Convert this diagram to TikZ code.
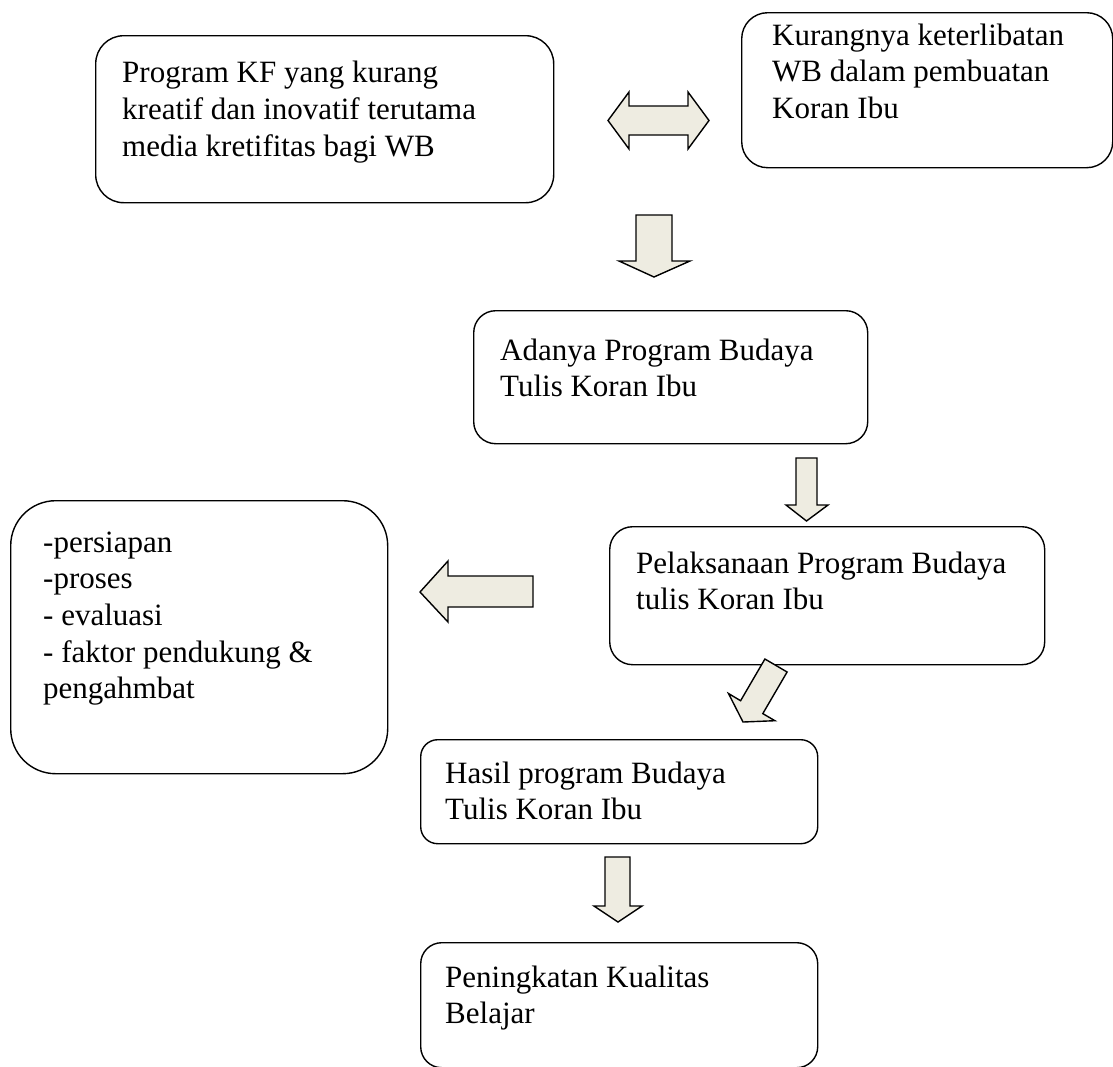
\documentclass[tikz,border=0pt]{standalone}
\usepackage{fontspec}
\setmainfont{Liberation Serif}
\definecolor{arrowfill}{HTML}{EEECE1}
\begin{document}
\begin{tikzpicture}[x=1pt,y=-1pt,
  box/.style={draw, line width=1.4pt, rounded corners=#1, inner sep=0pt, anchor=north west},
  txt/.style={anchor=base west, inner sep=0pt, font=\fontsize{31}{36.7}\selectfont},
  blockarrow/.style={draw, fill=arrowfill, line width=1.4pt, line join=miter}]
\useasboundingbox (0,0) rectangle (1113,1066);
\clip (0,0) rectangle (1113,1066);
% boxes
\node[box=28pt, minimum width=458pt, minimum height=167pt] (b1) at (95,35) {};
\node[box=26pt, minimum width=371pt, minimum height=155pt] (b2) at (741,12) {};
\node[box=22pt, minimum width=394pt, minimum height=133pt] (b3) at (473,310) {};
\node[box=45pt, minimum width=377pt, minimum height=273pt] (b4) at (10,500) {};
\node[box=23pt, minimum width=435pt, minimum height=138pt] (b5) at (609,526) {};
\node[box=17pt, minimum width=397pt, minimum height=104pt] (b6) at (420,739) {};
\node[box=21pt, minimum width=397pt, minimum height=125pt] (b7) at (420,942) {};
% texts
\node[txt] (t1) at ([shift={(27,47.7)}]b1.north west) {\begin{tabular}[t]{@{}l@{}}Program KF yang kurang\\kreatif dan inovatif terutama\\media kretifitas bagi WB\end{tabular}};
\node[txt] (t2) at ([shift={(31,33)}]b2.north west) {\begin{tabular}[t]{@{}l@{}}Kurangnya keterlibatan\\WB dalam pembuatan\\Koran Ibu\end{tabular}};
\node[txt] (t3) at ([shift={(27,50)}]b3.north west) {\begin{tabular}[t]{@{}l@{}}Adanya Program Budaya\\Tulis Koran Ibu\end{tabular}};
\node[txt] (t4) at ([shift={(33,52)}]b4.north west) {\begin{tabular}[t]{@{}l@{}}-persiapan\\-proses\\- evaluasi\\- faktor pendukung \&\\pengahmbat\end{tabular}};
\node[txt] (t5) at ([shift={(27,47)}]b5.north west) {\begin{tabular}[t]{@{}l@{}}Pelaksanaan Program Budaya\\tulis Koran Ibu\end{tabular}};
\node[txt] (t6) at ([shift={(25,44)}]b6.north west) {\begin{tabular}[t]{@{}l@{}}Hasil program Budaya\\Tulis Koran Ibu\end{tabular}};
\node[txt] (t7) at ([shift={(25,45)}]b7.north west) {\begin{tabular}[t]{@{}l@{}}Peningkatan Kualitas\\Belajar\end{tabular}};
% double arrow between b1 and b2
\draw[blockarrow] (608,120.5) -- (629,92) -- (629,106) -- (688,106) -- (688,92) -- (709,120.5)
  -- (688,149) -- (688,135) -- (629,135) -- (629,149) -- cycle;
% down arrow to b3
\draw[blockarrow] (636,215) -- (672,215) -- (672,261) -- (690,261) -- (654,277) -- (619,261) -- (636,261) -- cycle;
% down arrow b3 -> b5
\draw[blockarrow] (796,458) -- (817,458) -- (817,505) -- (828,505) -- (806.5,521) -- (786,505) -- (796,505) -- cycle;
% left arrow b5 -> b4
\draw[blockarrow] (420,592) -- (448,561) -- (448,576) -- (533,576) -- (533,607) -- (448,607) -- (448,622) -- cycle;
% diagonal arrow b5 -> b6
\draw[blockarrow] (764.9,659) -- (787.1,672) -- (762.8,713.6) -- (774.9,720.7) -- (743,722) -- (728.5,693.5) -- (740.6,700.7) -- cycle;
% down arrow b6 -> b7
\draw[blockarrow] (605,857) -- (630,857) -- (630,906) -- (642,906) -- (618,922) -- (594,906) -- (605,906) -- cycle;
\end{tikzpicture}
\end{document}
